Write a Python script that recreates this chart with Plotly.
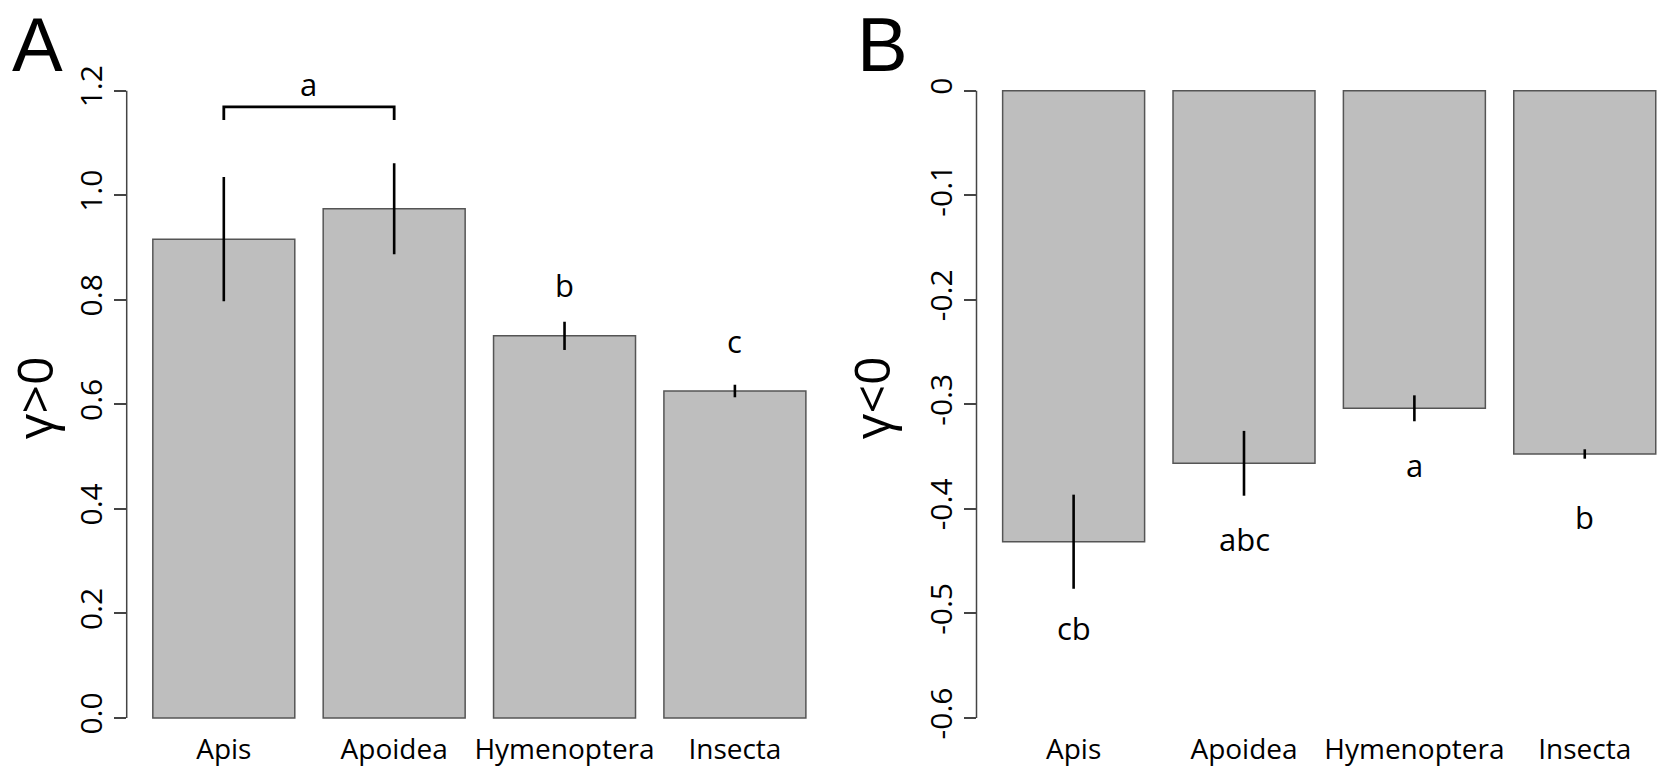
import plotly.graph_objects as go

categories = ["Apis", "Apoidea", "Hymenoptera", "Insecta"]

# Panel A: gamma > 0
pos_values = [0.916, 0.974, 0.731, 0.6255]
pos_errors = [0.119, 0.087, 0.027, 0.012]
pos_letters = ["", "", "b", "c"]
pos_letter_y = [None, None, 0.828, 0.721]
pos_ticks = [0.0, 0.2, 0.4, 0.6, 0.8, 1.0, 1.2]
pos_ticktext = ["0.0", "0.2", "0.4", "0.6", "0.8", "1.0", "1.2"]
bracket_pair = ["Apis", "Apoidea"]
bracket_y = [1.144, 1.169]
bracket_label = "a"
bracket_label_y = 1.213

# Panel B: gamma < 0
neg_values = [-0.4314, -0.3564, -0.3038, -0.3475]
neg_errors = [0.045, 0.031, 0.0124, 0.0045]
neg_letters = ["cb", "abc", "a", "b"]
neg_letter_y = [-0.514, -0.429, -0.358, -0.4077]
neg_ticks = [0.0, -0.1, -0.2, -0.3, -0.4, -0.5, -0.6]
neg_ticktext = ["0", "-0.1", "-0.2", "-0.3", "-0.4", "-0.5", "-0.6"]

FONT = "Open Sans"
PANEL_FONT = "Liberation Sans"
BAR_FILL = "#BEBEBE"
BAR_LINE = "#555555"
AXIS_COL = "#444444"

W, H = 1657, 773
top_px, bot_px = 65.6, 730.0
ydom = [(H - bot_px) / H, (H - top_px) / H]
xdomA = [126.7 / W, 832.0 / W]
xdomB = [976.5 / W, 1.0]

fig = go.Figure()

fig.add_trace(go.Bar(
    x=categories, y=pos_values,
    error_y=dict(type="data", array=pos_errors, visible=True, width=0, thickness=2.6, color="black"),
    marker=dict(color=BAR_FILL, line=dict(color=BAR_LINE, width=1.5)),
    xaxis="x", yaxis="y", showlegend=False, hoverinfo="x+y",
))
fig.add_trace(go.Bar(
    x=categories, y=neg_values,
    error_y=dict(type="data", array=neg_errors, visible=True, width=0, thickness=2.6, color="black"),
    marker=dict(color=BAR_FILL, line=dict(color=BAR_LINE, width=1.5)),
    xaxis="x2", yaxis="y2", showlegend=False, hoverinfo="x+y",
))

# bracket over Apis / Apoidea
fig.add_trace(go.Scatter(
    x=[bracket_pair[0], bracket_pair[0], bracket_pair[1], bracket_pair[1]],
    y=[bracket_y[0], bracket_y[1], bracket_y[1], bracket_y[0]],
    mode="lines", line=dict(color="black", width=2.8),
    xaxis="x", yaxis="y", showlegend=False, hoverinfo="skip",
))

annotations = []
# bracket label, centred between the two categories
annotations.append(dict(x=0.5, xref="x", y=bracket_label_y, yref="y", text=bracket_label,
                        showarrow=False, font=dict(family=FONT, size=31, color="black"),
                        xanchor="center", yanchor="middle"))
for cat, lab, ly in zip(categories, pos_letters, pos_letter_y):
    if lab:
        annotations.append(dict(x=cat, xref="x", y=ly, yref="y", text=lab, showarrow=False,
                                font=dict(family=FONT, size=31, color="black"),
                                xanchor="center", yanchor="middle"))
for cat, lab, ly in zip(categories, neg_letters, neg_letter_y):
    annotations.append(dict(x=cat, xref="x2", y=ly, yref="y2", text=lab, showarrow=False,
                            font=dict(family=FONT, size=31, color="black"),
                            xanchor="center", yanchor="middle"))
# panel labels
annotations.append(dict(x=37.5 / W, xref="paper", y=1, yref="paper", text="A",
                        showarrow=False, font=dict(family=PANEL_FONT, size=76, color="black"),
                        xanchor="center", yanchor="top"))
annotations.append(dict(x=882.5 / W, xref="paper", y=1, yref="paper", text="B",
                        showarrow=False, font=dict(family=PANEL_FONT, size=76, color="black"),
                        xanchor="center", yanchor="top"))

shapes = [
    dict(type="line", xref="x domain", yref="y", x0=0, x1=0, y0=min(pos_ticks), y1=max(pos_ticks),
         line=dict(color=AXIS_COL, width=1.5)),
    dict(type="line", xref="x2 domain", yref="y2", x0=0, x1=0, y0=min(neg_ticks), y1=max(neg_ticks),
         line=dict(color=AXIS_COL, width=1.5)),
]

common_x = dict(showgrid=False, zeroline=False, showline=False, ticks="",
                tickfont=dict(family=FONT, size=28, color="black"))
common_y = dict(showgrid=False, zeroline=False, showline=False, ticks="outside",
                ticklen=12, tickwidth=1.5, tickcolor=AXIS_COL, tickangle=-90,
                tickfont=dict(family=FONT, size=30, color="black"), tickmode="array")

fig.update_layout(
    width=W, height=H,
    margin=dict(l=0, r=0, t=0, b=0, autoexpand=False),
    paper_bgcolor="white", plot_bgcolor="white",
    bargap=1 - 1 / 1.2,
    xaxis=dict(domain=xdomA, range=[-0.57, 3.57], anchor="y", **common_x),
    xaxis2=dict(domain=xdomB, range=[-0.57, 3.424], anchor="y2", **common_x),
    yaxis=dict(domain=ydom, range=[-0.023, 1.248], anchor="x",
               tickvals=pos_ticks, ticktext=pos_ticktext,
               title=dict(text="γ>0", font=dict(family=FONT, size=50, color="black"), standoff=12),
               **common_y),
    yaxis2=dict(domain=ydom, range=[-0.6115, 0.024], anchor="x2",
                tickvals=neg_ticks, ticktext=neg_ticktext,
                title=dict(text="γ<0", font=dict(family=FONT, size=50, color="black"), standoff=12),
                **common_y),
    annotations=annotations,
    shapes=shapes,
    font=dict(family=FONT),
)

fig.write_html("out.html")
